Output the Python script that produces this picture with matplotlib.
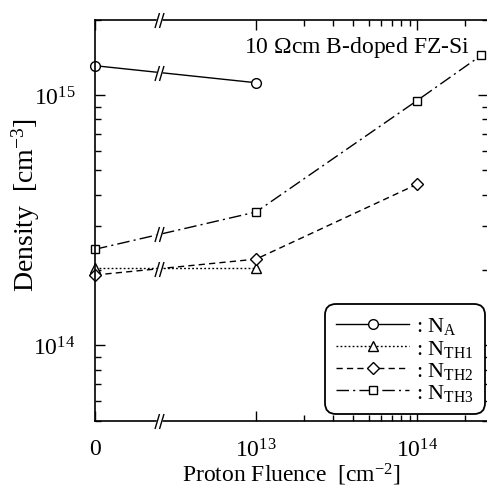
import numpy as np
import matplotlib
matplotlib.use("Agg")
import matplotlib.pyplot as plt
from matplotlib.path import Path

plt.rcParams['font.family'] = ['Liberation Serif', 'DejaVu Serif']
plt.rcParams['mathtext.fontset'] = 'custom'
plt.rcParams['mathtext.rm'] = 'Liberation Serif'
plt.rcParams['mathtext.it'] = 'Liberation Serif:italic'
plt.rcParams['mathtext.bf'] = 'Liberation Serif:bold'

# ---- data ----
fluence = [0, 1e13, 1e14, 2.5e14]
N_A = [1.31e15, 1.12e15]
N_TH1 = [2.03e14, 2.03e14]
N_TH2 = [1.91e14, 2.21e14, 4.4e14]
N_TH3 = [2.42e14, 3.41e14, 9.5e14, 1.44e15]
series_labels = [r': N$_{\mathrm{A}}$', r': N$_{\mathrm{TH1}}$',
                 r': N$_{\mathrm{TH2}}$', r': N$_{\mathrm{TH3}}$']
xtick_vals = [0, 1e13, 1e14]
xtick_labels = ['0', r'$10^{13}$', r'$10^{14}$']
break_x = 4e12

# broken axis: linear 0..1e13 mapped to one decade, log beyond
def fwd(x):
    x = np.asarray(x, dtype=float)
    xs = np.maximum(x, 1e-300)
    return np.where(x >= 1e13, np.log10(xs), 12 + x / 1e13)

def inv(u):
    u = np.asarray(u, dtype=float)
    return np.where(u >= 13, 10 ** u, (u - 12) * 1e13)

W, H = 487, 489
fig = plt.figure(figsize=(W / 100, H / 100), dpi=100)
x0, x1, y0, y1 = 95, 488, 20.7, 421.7
ax = fig.add_axes([x0 / W, 1 - y1 / H, (x1 - x0) / W, (y1 - y0) / H])
ax.set_xscale('function', functions=(fwd, inv))
ax.set_yscale('log')
ax.set_xlim(0, 10 ** (12 + (x1 - x0) / 161.0))
ax.set_ylim(5e13, 2e15)

lw = 1.0
ms_kw = dict(markerfacecolor='white', markeredgecolor='black', markeredgewidth=1.0, color='black', lw=lw)
l1, = ax.plot(fluence[:len(N_A)], N_A, '-', marker='o', ms=7, **ms_kw, clip_on=False)
l2, = ax.plot(fluence[:len(N_TH1)], N_TH1, linestyle=(0, (1.3, 1.6)), marker='^', ms=6.5, **ms_kw, clip_on=False)
l3, = ax.plot(fluence[:len(N_TH2)], N_TH2, linestyle=(0, (4.5, 3)), marker='D', ms=6, **ms_kw, clip_on=False)
l4, = ax.plot(fluence[:len(N_TH3)], N_TH3, linestyle=(0, (9, 3, 1.5, 3)), marker='s', ms=5.5, **ms_kw, clip_on=False)

# ticks
ax.set_xticks(xtick_vals)
ax.set_xticklabels(xtick_labels)
minor = [k * 1e13 for k in range(2, 10)] + [2e14]
ax.set_xticks(minor, minor=True)
ax.tick_params(which='both', direction='in', top=True, right=True, width=1.0, labelsize=17)
ax.tick_params(which='major', length=7.2)
ax.tick_params(which='minor', length=4.3)
ax.tick_params(axis='y', which='major', pad=14)
ax.tick_params(axis='x', which='major', pad=12.5)
for s in ax.spines.values():
    s.set_linewidth(1.2)

ax.set_xlabel(r'Proton Fluence  [cm$^{\mathrm{-2}}$]', fontsize=17, labelpad=0)
ax.set_ylabel(r'Density  [cm$^{\mathrm{-3}}$]', fontsize=20)
ax.yaxis.set_label_coords(-0.135, 0.54)

ax.text(0.954, 0.919, r'10 $\Omega$cm B-doped FZ-Si', transform=ax.transAxes,
        ha='right', va='baseline', fontsize=17)

# break marks
s = 7.5 * 72 / 100.0
d = 4.5 * 72 / 100.0
slash = Path([(-d, -s), (0, s), (0, -s), (d, s)],
             [Path.MOVETO, Path.LINETO, Path.MOVETO, Path.LINETO])
gap = Path([(-d, -s), (0, -s), (d, s), (0, s), (-d, -s)],
           [Path.MOVETO, Path.LINETO, Path.LINETO, Path.LINETO, Path.CLOSEPOLY])
msz = 2 * s

def brk(xv, yv, transform):
    ax.plot([xv], [yv], marker=gap, ms=msz, markerfacecolor='white', markeredgecolor='white',
            markeredgewidth=1.0, linestyle='none', transform=transform, clip_on=False, zorder=5)
    ax.plot([xv], [yv], marker=slash, ms=msz, markerfacecolor='none', markeredgecolor='black',
            markeredgewidth=1.0, linestyle='none', transform=transform, clip_on=False, zorder=6)

xt = ax.get_xaxis_transform()
brk(break_x, 0, xt)
brk(break_x, 1, xt)
frac = break_x / 1e13
for ser in [N_A, N_TH3, N_TH2]:
    yb = 10 ** (np.log10(ser[0]) + frac * (np.log10(ser[1]) - np.log10(ser[0])))
    brk(break_x, yb, ax.transData)

leg = ax.legend([l1, l2, l3, l4], series_labels, loc='lower right',
                bbox_to_anchor=(0.992, 0.017), borderaxespad=0, fontsize=16,
                handlelength=3.3, numpoints=1, fancybox=True, framealpha=1,
                edgecolor='black', labelspacing=0.05, handletextpad=0.3,
                borderpad=0.5)
frame = leg.get_frame()
frame.set_linewidth(1.3)
frame.set_boxstyle('round,pad=0,rounding_size=0.5')

fig.savefig('out.png', dpi=100)
